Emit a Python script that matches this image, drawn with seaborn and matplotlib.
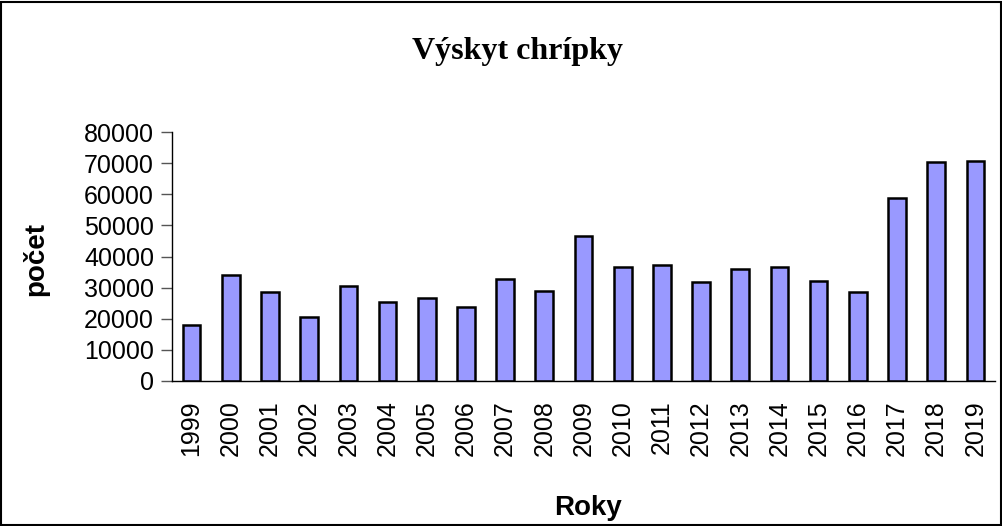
import numpy as np
import pandas as pd
import matplotlib
matplotlib.use("Agg")
import matplotlib.pyplot as plt
import seaborn as sns
from matplotlib.patches import Rectangle

years = [str(y) for y in range(1999, 2020)]
counts = [18000, 33900, 28700, 20600, 30400, 25500, 26800, 23800, 32900, 28900,
          46700, 36500, 37200, 31800, 36000, 36700, 32000, 28500, 58900, 70400, 70800]
yticks = [0, 10000, 20000, 30000, 40000, 50000, 60000, 70000, 80000]

df = pd.DataFrame({"rok": years, "pocet": counts})

sns.set_style("white")
plt.rcParams["font.family"] = ["Liberation Sans", "DejaVu Sans"]
plt.rcParams["text.color"] = "black"
plt.rcParams["xtick.color"] = "black"
plt.rcParams["ytick.color"] = "black"

fig = plt.figure(figsize=(10.03, 5.26), dpi=100)
ax = fig.add_axes([172 / 1003, 1 - 381 / 526, (995 - 172) / 1003, (381 - 132) / 526])

sns.barplot(data=df, x="rok", y="pocet", color="#9999FF", saturation=1,
            width=0.45, edgecolor="black", linewidth=1.8, ax=ax)

ax.set_ylim(0, 80000)
ax.set_xlim(-0.5, len(years) - 0.5)
ax.set_yticks(yticks)
ax.set_yticklabels([str(t) for t in yticks], fontsize=18)
ax.set_xticks(range(len(years)))
ax.set_xticklabels(years, rotation=90, fontsize=18)
ax.set_xticks(np.arange(-0.5, len(years), 1.0), minor=True)
ax.tick_params(axis="x", which="major", length=0, pad=14)
ax.tick_params(axis="x", which="minor", length=7, width=1, color="#555555", direction="out")
ax.tick_params(axis="y", length=8, width=1, color="#555555", direction="out", pad=5, left=True)

for s in ["top", "right"]:
    ax.spines[s].set_visible(False)
for s in ["left", "bottom"]:
    ax.spines[s].set_color("black")
    ax.spines[s].set_linewidth(1)

ax.set_xlabel("")
ax.set_ylabel("")
fig.text(517 / 1003, 1 - 52 / 526, "Výskyt chrípky", ha="center", va="center",
         fontsize=23, fontweight="bold", family="Liberation Serif")
fig.text(36 / 1003, 1 - 259 / 526, "počet", ha="center", va="center", rotation=90,
         fontsize=20, fontweight="bold")
fig.text(588 / 1003, 1 - 508 / 526, "Roky", ha="center", va="center",
         fontsize=20, fontweight="bold")

fig.patches.append(Rectangle((0.001, 0.001), 0.997, 0.996, transform=fig.transFigure,
                             fill=False, edgecolor="black", linewidth=1.5))

fig.savefig("out.png", dpi=100)
